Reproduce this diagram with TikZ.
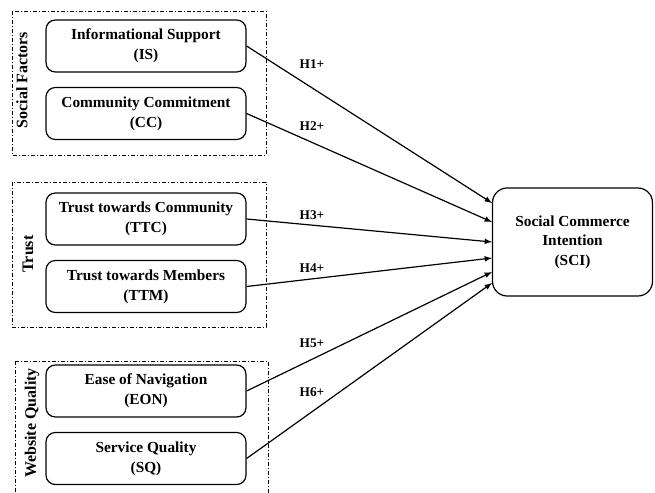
\documentclass[tikz,border=0pt]{standalone}
\usepackage{fontspec}
\setmainfont{Liberation Serif}
\usepackage{tikz}

\tikzset{
  factorbox/.style={draw, line width=0.9pt, rounded corners=7pt, align=center,
    minimum width=150pt, minimum height=39pt, inner sep=0.75pt,
    font=\fontsize{11.5}{15}\selectfont\bfseries},
  groupbox/.style={draw, line width=0.6pt, dash pattern=on 3pt off 1.5pt on 0.8pt off 1.5pt},
  grouplabel/.style={rotate=90, inner sep=0.75pt, font=\fontsize{12}{14}\selectfont\bfseries},
  hyplabel/.style={inner sep=0.75pt, font=\fontsize{10}{12}\selectfont\bfseries},
  path/.style={line width=0.9pt, -latex}
}

\begin{document}
\begin{tikzpicture}[x=0.75pt,y=0.75pt,yscale=-1,xscale=1]
        \useasboundingbox (0,0) rectangle (655,492);

        %Group boxes
        \draw [groupbox] (12,11) rectangle (266,155) ;
        \draw [groupbox] (12,182) rectangle (266,327) ;
        \draw [groupbox] (15,361) rectangle (268,500) ;

        % Group labels
        \node [grouplabel] (gsf) at (22,80) {Social Factors};
        \node [grouplabel] (gtr) at (28,254) {Trust};
        \node [grouplabel] (gwq) at (32,423) {Website Quality};

        % Factor nodes
        \node [factorbox] (is) at (146,46) {Informational Support\\(IS)};
        \node [factorbox] (cc) at (146,113.5) {Community Commitment\\(CC)};
        \node [factorbox] (ttc) at (146,219) {Trust towards Community\\(TTC)};
        \node [factorbox] (ttm) at (146,286.5) {Trust towards Members\\(TTM)};
        \node [factorbox] (eon) at (146,391) {Ease of Navigation\\(EON)};
        \node [factorbox] (sq) at (146,458.5) {Service Quality\\(SQ)};

        % Outcome node
        \node [factorbox, minimum width=120pt, minimum height=81pt, rounded corners=11pt,
          font=\fontsize{11.5}{14.5}\selectfont\bfseries] (sci) at (572.5,242) {Social Commerce\\Intention\\(SCI)};

        % Arrow ends on SCI
        \coordinate (e1) at (492,203);
        \coordinate (e2) at (492,222);
        \coordinate (e3) at (492,242);
        \coordinate (e4) at (492,258);
        \coordinate (e5) at (492,272);
        \coordinate (e6) at (492,283);

        % Hypotheses
        \draw [path] (is.east) -- (e1) ;
        \draw [path] (cc.east) -- (e2) ;
        \draw [path] (ttc.east) -- (e3) ;
        \draw [path] (ttm.east) -- (e4) ;
        \draw [path] (eon.east) -- (e5) ;
        \draw [path] (sq.east) -- (e6) ;

        % Text Node
        \node [hyplabel] (h1) at (312,64) {H1+};
        \node [hyplabel] (h2) at (312,126) {H2+};
        \node [hyplabel] (h3) at (312,215) {H3+};
        \node [hyplabel] (h4) at (312,268) {H4+};
        \node [hyplabel] (h5) at (312,343) {H5+};
        \node [hyplabel] (h6) at (312,392) {H6+};
\end{tikzpicture}
\end{document}
